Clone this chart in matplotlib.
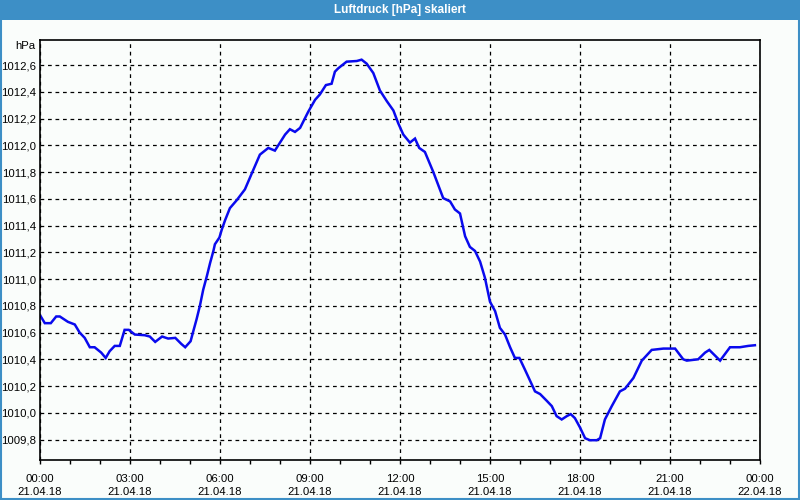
import matplotlib
matplotlib.use("Agg")
import matplotlib.pyplot as plt
from matplotlib.patches import Rectangle
from matplotlib.ticker import MultipleLocator, FuncFormatter

# ── Data (hours since 21.04.18 00:00, hPa) ──
hours = [0.0, 0.16, 0.36, 0.54, 0.66, 0.93, 1.16, 1.32, 1.49, 1.66, 1.82,
         2.04, 2.19, 2.32, 2.49, 2.66, 2.82, 2.96, 3.16, 3.49, 3.66, 3.84,
         4.07, 4.27, 4.51, 4.71, 4.84, 5.02, 5.11, 5.22, 5.33, 5.44, 5.56,
         5.67, 5.78, 5.83, 5.98, 6.06, 6.17, 6.33, 6.56, 6.83, 7.06, 7.33,
         7.61, 7.83, 8.17, 8.33, 8.5, 8.67, 8.94, 9.17, 9.33, 9.53, 9.72,
         9.83, 9.94, 10.22, 10.56, 10.72, 10.89, 11.11, 11.33, 11.56, 11.78,
         11.94, 12.11, 12.33, 12.5, 12.64, 12.83, 13.11, 13.44, 13.67, 13.83,
         14.0, 14.17, 14.33, 14.5, 14.67, 14.83, 15.0, 15.17, 15.33, 15.5,
         15.67, 15.83, 15.98, 16.17, 16.5, 16.67, 16.89, 17.06, 17.22, 17.39,
         17.56, 17.69, 17.83, 18.0, 18.17, 18.33, 18.56, 18.67, 18.83, 19.06,
         19.33, 19.5, 19.78, 20.06, 20.39, 20.78, 21.17, 21.44, 21.56, 21.94,
         22.17, 22.31, 22.67, 23.0, 23.33, 23.61, 23.83]
pressure = [1010.73, 1010.67, 1010.67, 1010.72, 1010.72, 1010.68, 1010.66,
            1010.60, 1010.56, 1010.49, 1010.49, 1010.45, 1010.41, 1010.46,
            1010.50, 1010.50, 1010.62, 1010.62, 1010.585, 1010.58, 1010.57,
            1010.53, 1010.57, 1010.555, 1010.56, 1010.515, 1010.49, 1010.535,
            1010.61, 1010.70, 1010.80, 1010.92, 1011.02, 1011.12, 1011.21,
            1011.26, 1011.31, 1011.37, 1011.44, 1011.53, 1011.59, 1011.67,
            1011.79, 1011.93, 1011.98, 1011.96, 1012.08, 1012.12, 1012.10,
            1012.13, 1012.25, 1012.34, 1012.38, 1012.45, 1012.46, 1012.55,
            1012.575, 1012.625, 1012.63, 1012.64, 1012.61, 1012.54, 1012.41,
            1012.33, 1012.26, 1012.165, 1012.08, 1012.02, 1012.05, 1011.98,
            1011.95, 1011.80, 1011.605, 1011.58, 1011.52, 1011.49, 1011.32,
            1011.24, 1011.21, 1011.13, 1011.01, 1010.83, 1010.76, 1010.635,
            1010.585, 1010.49, 1010.41, 1010.41, 1010.32, 1010.16, 1010.14,
            1010.09, 1010.05, 1009.975, 1009.95, 1009.975, 1009.99, 1009.96,
            1009.89, 1009.81, 1009.795, 1009.795, 1009.81, 1009.95, 1010.05,
            1010.16, 1010.18, 1010.26, 1010.39, 1010.47, 1010.48, 1010.48,
            1010.40, 1010.39, 1010.40, 1010.45, 1010.47, 1010.39, 1010.49,
            1010.49, 1010.50, 1010.505]

tick_hours = [0, 3, 6, 9, 12, 15, 18, 21, 24]
tick_labels = ["00:00\n21.04.18", "03:00\n21.04.18", "06:00\n21.04.18",
               "09:00\n21.04.18", "12:00\n21.04.18", "15:00\n21.04.18",
               "18:00\n21.04.18", "21:00\n21.04.18", "00:00\n22.04.18"]

plt.rcParams["font.family"] = ["Liberation Sans", "DejaVu Sans"]

bg = "#fafdfb"
bar_blue = "#3d8fc6"

fig = plt.figure(figsize=(8, 5), dpi=100, facecolor=bg)

# title bar + thin frame round the whole picture
fig.patches.append(Rectangle((0, 0.96), 1, 0.04, transform=fig.transFigure,
                             facecolor=bar_blue, edgecolor="none", zorder=0))
fig.patches.append(Rectangle((0.001, 0.002), 0.998, 0.997, transform=fig.transFigure,
                             facecolor="none", edgecolor=bar_blue, linewidth=1.5))
fig.text(0.5, 0.979, "Luftdruck [hPa] skaliert", color="white", fontsize=8.5,
         fontweight="bold", ha="center", va="center")

ax = fig.add_axes([0.05, 0.08, 0.90, 0.84], facecolor=bg)
ax.plot(hours, pressure, color="#0a0aee", linewidth=1.8, solid_joinstyle="miter")

ax.set_xlim(0, 24)
ax.set_ylim(1009.647, 1012.787)

ax.set_xticks(tick_hours)
ax.set_xticklabels(tick_labels, fontsize=8.2, linespacing=1.4)
ax.xaxis.set_minor_locator(MultipleLocator(1))
ax.yaxis.set_major_locator(MultipleLocator(0.2))
ax.yaxis.set_major_formatter(FuncFormatter(lambda v, p: f"{v:.1f}".replace(".", ",")))
ax.tick_params(axis="y", length=0, labelsize=8.2, pad=3)
ax.tick_params(axis="x", which="both", length=3, width=1, direction="out", pad=7)

ax.grid(True, color="black", linestyle=(0, (3, 3)), linewidth=0.9)
for s in ax.spines.values():
    s.set_linewidth(1.2)
    s.set_color("black")

fig.text(0.044, 0.908, "hPa", fontsize=8.2, ha="right", va="center")

plt.savefig("out.png", dpi=100, facecolor=bg)
